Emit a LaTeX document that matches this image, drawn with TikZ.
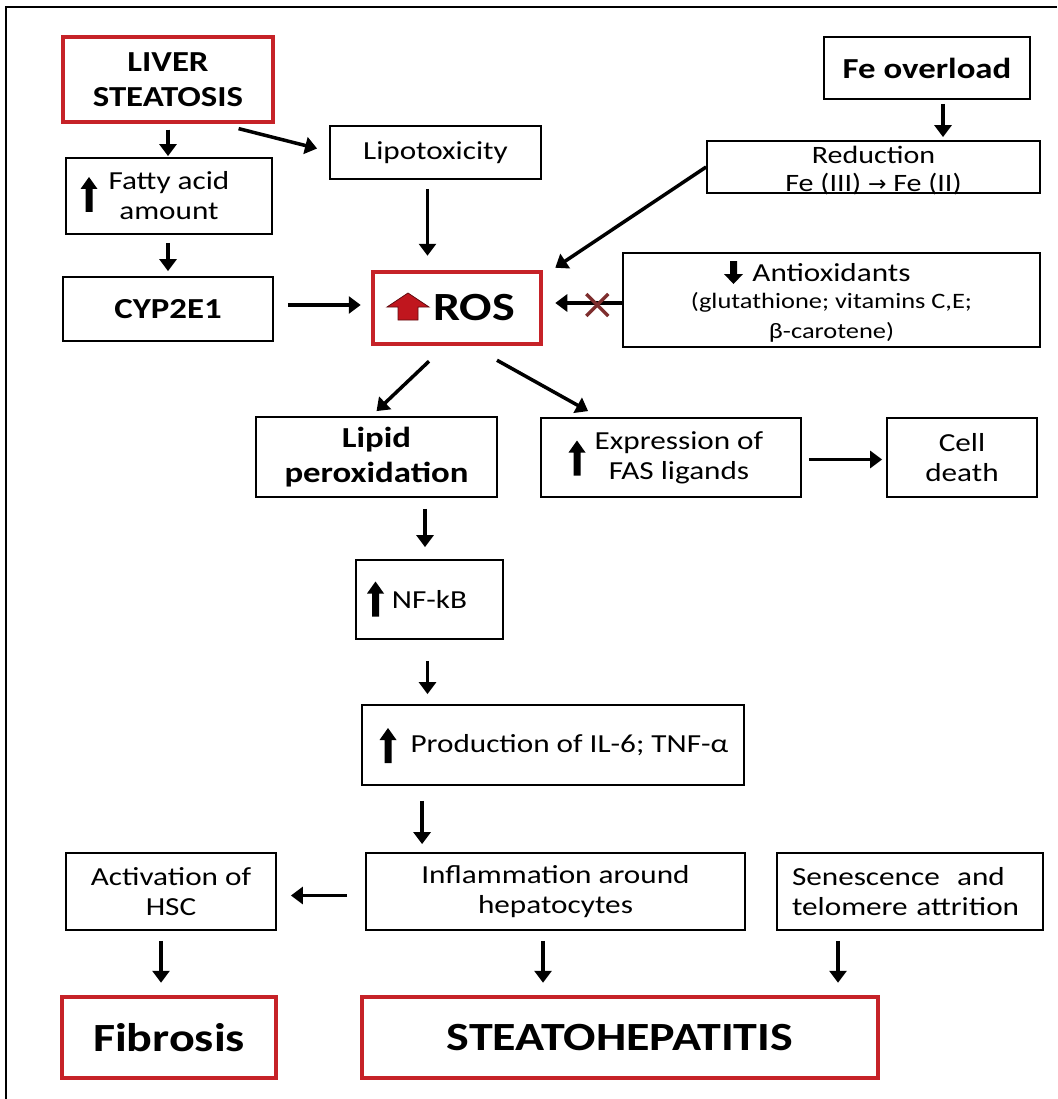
\documentclass[tikz,border=0pt]{standalone}
\usepackage{fontspec}
\setmainfont[FakeStretch=1.2]{Carlito}
\newfontfamily\djv{DejaVu Sans}
\usetikzlibrary{arrows.meta,calc}
\definecolor{boxred}{HTML}{C62228}
\definecolor{xred}{HTML}{7E2E2E}
\definecolor{rosred}{HTML}{C0161E}
\begin{document}
\begin{tikzpicture}[x=1pt,y=-1pt,
  box/.style={draw=black,line width=1.8pt,inner sep=0pt,align=center,font=\fontsize{26}{30}\selectfont},
  boldbox/.style={box,font=\bfseries\fontsize{29}{35}\selectfont},
  redbox/.style={draw=boxred,line width=4.5pt,inner sep=0pt,align=center,font=\bfseries\fontsize{40}{46}\selectfont},
  arr/.style={line width=3.5pt,-{Triangle[length=12pt,width=17pt]}},
  xmark/.style={draw=xred,line width=3.5pt},
  uparr/.pic={\fill (-3.5,0) -- (3.5,0) -- (3.5,-23) -- (8.5,-23) -- (0,-35) -- (-8.5,-23) -- (-3.5,-23) -- cycle;},
  dnarr/.pic={\fill (-3.5,-4) -- (3.5,-4) -- (3.5,9) -- (9.5,9) -- (0,19) -- (-9.5,9) -- (-3.5,9) -- cycle;},
  rosarr/.pic={\filldraw[fill=rosred,draw=black!50!rosred,line width=0.8pt] (-10,13) -- (10,13) -- (10,0) -- (21,0) -- (0,-14) -- (-21,0) -- (-10,0) -- cycle;}
]
\useasboundingbox (0,0) rectangle (1057,1099);
\fill[white] (0,0) rectangle (1057,1099);
% frame
\draw[line width=2pt] (6,1099) -- (6,7) -- (1057,7);

% nodes
\node[redbox,line width=3.2pt,font=\bfseries\fontsize{29}{35}\selectfont,minimum width=210pt,minimum height=85pt] (liver) at (168,79.5) {LIVER\\STEATOSIS};
\node[box,minimum width=206pt,minimum height=76pt] (fatty) at (169,196) {Fatty acid\\amount};
\node[boldbox,minimum width=210pt,minimum height=64pt] (cyp) at (168,309) {CYP2E1};
\node[box,minimum width=211pt,minimum height=53pt] (lipo) at (435.5,152.5) {Lipotoxicity};
\node[redbox,minimum width=168pt,minimum height=72pt] (ros) at (457,308) {\hspace*{34pt}ROS};
\node[boldbox,minimum width=206pt,minimum height=62pt] (feo) at (927,68) {Fe overload};
\node[box,font=\fontsize{25}{30}\selectfont,minimum width=333pt,minimum height=52pt] (red) at (873.5,167) {\rule{0pt}{21pt}Reduction\\[-2pt]\raisebox{0pt}[\height][0pt]{Fe (III) {\djv\fontsize{22}{22}\selectfont →} Fe (II)}};
\node[box,minimum width=417pt,minimum height=94pt] (anti) at (831.5,300) {\rule{0pt}{24pt}Antioxidants\\[-3pt]{\fontsize{22}{25}\selectfont (glutathione; vitamins C,E;}\\{\fontsize{22}{25}\selectfont β-carotene)}};
\node[boldbox,minimum width=241pt,minimum height=80pt] (lipid) at (376.5,457) {Lipid\\peroxidation};
\node[box,minimum width=260pt,minimum height=79pt] (fas) at (671,457.5) {\hspace*{16pt}Expression of\\\hspace*{16pt}FAS ligands};
\node[box,minimum width=150pt,minimum height=79pt] (cell) at (962,457.5) {Cell\\death};
\node[box,minimum width=147pt,minimum height=79pt] (nfkb) at (429.5,599.5) {NF-kB};
\node[box,minimum width=382pt,minimum height=80pt] (prod) at (553,745) {\hspace*{33pt}Production of IL-6; TNF-α};
\node[box,minimum width=210pt,minimum height=77pt] (act) at (171,891.5) {Activation of\\HSC};
\node[box,minimum width=379pt,minimum height=77pt] (infl) at (555.5,891.5) {Inflammation around\\hepatocytes};
\node[box,text width=236pt,align=left,minimum width=266pt,minimum height=77pt] (sen) at (910,891.5) {Senescence~ and\\telomere attrition};
\node[redbox,minimum width=214pt,minimum height=81pt] (fib) at (169,1037.5) {Fibrosis};
\node[redbox,minimum width=516pt,minimum height=81pt] (steato) at (620,1037.5) {STEATOHEPATITIS};

% inline arrows
\pic at ($(fatty.center)+(-80,16)$) {uparr};
\pic at ($(fas.center)+(-94,18)$) {uparr};
\pic at ($(nfkb.center)+(-54,17)$) {uparr};
\pic at ($(prod.center)+(-165,18)$) {uparr};
\pic at ($(anti.center)+(-98,-35)$) {dnarr};
\pic at ($(ros.center)+(-49,-1)$) {rosarr};

% connectors
\draw[arr,shorten <=6pt,shorten >=1pt] (liver.south) -- (liver.south |- fatty.north);
\draw[arr] ($(liver.south east)+(-36,5)$) -- ($(lipo.west)+(-12,-4)$);
\draw[arr,shorten <=8pt,shorten >=5pt] (fatty.south -| liver.south) -- (liver.south |- cyp.north);
\coordinate (c1) at ($(lipo.south)+(-8,9)$);
\draw[arr,shorten >=14pt] (c1) -- (c1 |- ros.north);
\draw[arr,shorten <=14pt,shorten >=10pt] ($(cyp.east)+(0,-4)$) -- ($(ros.west)+(0,-3)$);
\coordinate (c2) at ($(feo.south)+(16,4)$);
\draw[arr,shorten >=3pt] (c2) -- (c2 |- red.north);
\draw[arr] (red.west) -- ($(ros.north east)+(12,-2)$);
\coordinate (c3) at ($(anti.west)+(0,3)$);
\draw[arr,shorten >=12pt] (c3) -- (c3 -| ros.east);
\draw[xmark] ($(ros.east)+(43,-14)$) -- ($(ros.east)+(65,8)$);
\draw[xmark] ($(ros.east)+(43,8)$) -- ($(ros.east)+(65,-14)$);
\draw[arr] ($(ros.south)+(-28,15)$) -- ($(lipid.north)+(0,-5)$);
\draw[arr] ($(ros.south)+(40,14)$) -- ($(fas.north west)+(48,-6)$);
\draw[arr,shorten <=7pt,shorten >=4pt] ($(fas.east)+(0,2)$) -- ($(cell.west)+(0,2)$);
\coordinate (c4) at ($(nfkb.north)+(-4.5,-12)$);
\draw[arr,shorten <=11pt] (c4 |- lipid.south) -- (c4);
\coordinate (c5) at ($(nfkb.south)+(-2,21)$);
\draw[arr,shorten >=10pt] (c5) -- (c5 |- prod.north);
\coordinate (c6) at ($(prod.south west)+(61,15)$);
\draw[arr,shorten >=8pt] (c6) -- (c6 |- infl.north);
\draw[arr,shorten <=18pt,shorten >=14pt] ($(infl.west)+(0,4)$) -- ($(act.east)+(0,4)$);
\coordinate (c7) at ($(act.south)+(-10,10)$);
\draw[arr,shorten >=12pt] (c7) -- (c7 |- fib.north);
\coordinate (c8) at ($(infl.south)+(-12.5,10)$);
\draw[arr,shorten >=12pt] (c8) -- (c8 |- steato.north);
\coordinate (c9) at ($(sen.south)+(-72,10)$);
\draw[arr,shorten >=12pt] (c9) -- (c9 |- steato.north);
\end{tikzpicture}
\end{document}
